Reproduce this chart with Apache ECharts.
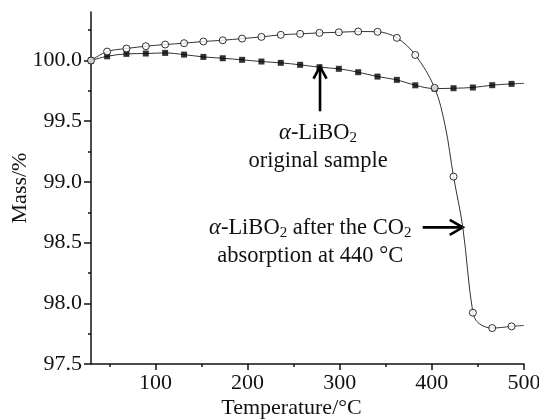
<!DOCTYPE html>
<html>
<head>
<meta charset="utf-8">
<script src="https://cdn.jsdelivr.net/npm/echarts@6/dist/echarts.min.js"></script>
<style>
  html, body { margin: 0; padding: 0; background: #fff; }
  #chart { width: 539px; height: 419px; }
</style>
</head>
<body>
<div id="chart"></div>
<script>
// temperatures of the sampled points (°C)
var temps = [30, 47.5, 68.5, 89.5, 110.5, 131, 152, 173, 194, 215, 236, 257, 278, 299, 320, 341, 362, 382, 403, 423.5, 444.5, 465.5, 486.5];
// original sample (filled squares)
var originalMass = [100.0, 100.035, 100.055, 100.058, 100.063, 100.049, 100.03, 100.019, 100.006, 99.992, 99.981, 99.965, 99.945, 99.932, 99.904, 99.868, 99.841, 99.796, 99.769, 99.772, 99.778, 99.797, 99.808];
// after CO2 absorption at 440 °C (open circles)
var afterMass = [100.0, 100.074, 100.099, 100.118, 100.132, 100.143, 100.157, 100.167, 100.181, 100.195, 100.212, 100.22, 100.228, 100.233, 100.239, 100.237, 100.187, 100.046, 99.775, 99.044, 97.923, 97.796, 97.81];
var stepT = [414.5, 433.5, 451];
var stepM = [99.46, 98.63, 97.835];
// the traces run on past the last marker to the axis end
var endTemp = 500;
var originalEnd = 99.812;
var afterEnd = 97.818;

var xMajor = [100, 200, 300, 400, 500];
var xMinor = [50, 150, 250, 350, 450];
var yMajor = [97.5, 98.0, 98.5, 99.0, 99.5, 100.0];
var yMinor = [97.75, 98.25, 98.75, 99.25, 99.75, 100.25];

var serif = 'Liberation Serif';
var ink = '#111';
var fs = 22;

function zip(xs, ys) {
  return xs.map(function (x, i) { return [x, ys[i]]; });
}

var chart = echarts.init(document.getElementById('chart'));

var axisX = {
  type: 'value', min: 30, max: 500, position: 'bottom',
  splitLine: { show: false }
};
var axisY = {
  type: 'value', min: 97.5, max: 100.4, position: 'left',
  splitLine: { show: false }
};

// circle trace = markers + read-off points + tail, sorted by temperature
var afterTrace = zip(temps, afterMass).concat(zip(stepT, stepM), [[endTemp, afterEnd]]);
afterTrace.sort(function (a, b) { return a[0] - b[0]; });

chart.setOption({
  animation: false,
  grid: { left: 91, right: 15, top: 12, bottom: 55, outerBoundsMode: 'none', containLabel: false },
  xAxis: [
    Object.assign({}, axisX, {
      name: 'Temperature/°C', nameLocation: 'middle', nameGap: 33, nameMoveOverlap: false,
      nameTextStyle: { fontFamily: serif, fontSize: fs, color: ink, padding: [0, 32, 0, 0] },
      axisLine: { show: true, lineStyle: { color: ink, width: 1.5 } },
      axisTick: { show: true, customValues: xMajor, length: 6, lineStyle: { color: ink, width: 1.5 } },
      axisLabel: { customValues: xMajor, margin: 8, fontFamily: serif, fontSize: fs, color: ink }
    }),
    Object.assign({}, axisX, {
      axisLine: { show: false },
      axisTick: { show: true, customValues: xMinor, length: 3, lineStyle: { color: ink, width: 1.5 } },
      axisLabel: { show: false }
    })
  ],
  yAxis: [
    Object.assign({}, axisY, {
      name: 'Mass/%', nameLocation: 'middle', nameGap: 60, nameMoveOverlap: false,
      nameTextStyle: { fontFamily: serif, fontSize: fs, color: ink },
      axisLine: { show: true, lineStyle: { color: ink, width: 1.5 } },
      axisTick: { show: true, customValues: yMajor, length: 7, lineStyle: { color: ink, width: 1.5 } },
      axisLabel: {
        customValues: yMajor, margin: 9, fontFamily: serif, fontSize: fs, color: ink,
        formatter: function (v) { return v.toFixed(1); }
      }
    }),
    Object.assign({}, axisY, {
      axisLine: { show: false },
      axisTick: { show: true, customValues: yMinor, length: 3, lineStyle: { color: ink, width: 1.5 } },
      axisLabel: { show: false }
    })
  ],
  series: [
    {
      type: 'line', smooth: 0.35, showSymbol: false, silent: true,
      data: zip(temps, originalMass).concat([[endTemp, originalEnd]]),
      lineStyle: { color: '#333', width: 1 }
    },
    {
      type: 'line', smooth: 0.35, showSymbol: false, silent: true,
      data: afterTrace,
      lineStyle: { color: '#333', width: 1 }
    },
    {
      type: 'scatter', symbol: 'rect', symbolSize: 6, z: 3,
      data: zip(temps, originalMass),
      itemStyle: { color: '#000' }
    },
    {
      type: 'scatter', symbol: 'circle', symbolSize: 7, z: 4,
      data: zip(temps, afterMass),
      itemStyle: { color: '#fff', borderColor: '#000', borderWidth: 1 }
    }
  ]
});

// annotations, placed in data coordinates
function px(t, m) {
  return chart.convertToPixel({ xAxisIndex: 0, yAxisIndex: 0 }, [t, m]);
}

var rich = {
  a: { fontFamily: serif, fontSize: 22.5, fontStyle: 'italic', fill: ink },
  n: { fontFamily: serif, fontSize: 22.5, fill: ink },
  s: { fontFamily: serif, fontSize: 15, fill: ink, padding: [10, 0, 0, 0] }
};

function label(t, m, text) {
  var p = px(t, m);
  return {
    type: 'text', x: p[0], y: p[1],
    style: { text: text, rich: rich, align: 'center', verticalAlign: 'middle', font: '22.5px ' + serif, fill: ink }
  };
}

var up0 = px(278.6, 99.582), up1 = px(278.6, 99.95);
var rt0 = px(390, 98.626), rt1 = px(433.5, 98.626);
var arrowStyle = { stroke: '#000', lineWidth: 2.6, fill: null };

chart.setOption({
  graphic: [
    { type: 'line', shape: { x1: up0[0], y1: up0[1], x2: up1[0], y2: up1[1] + 1 }, style: arrowStyle },
    { type: 'polyline', shape: { points: [[up1[0] - 6.5, up1[1] + 12], [up1[0], up1[1]], [up1[0] + 6.5, up1[1] + 12]] }, style: arrowStyle },
    { type: 'line', shape: { x1: rt0[0], y1: rt0[1], x2: rt1[0] - 1, y2: rt1[1] }, style: arrowStyle },
    { type: 'polyline', shape: { points: [[rt1[0] - 13, rt1[1] - 7.5], [rt1[0], rt1[1]], [rt1[0] - 13, rt1[1] + 7.5]] }, style: arrowStyle },
    label(276.5, 99.4, '{a|α}{n|-LiBO}{s|2}'),
    label(276.5, 99.175, '{n|original sample}'),
    label(268, 98.617, '{a|α}{n|-LiBO}{s|2}{n| after the CO}{s|2}'),
    label(268, 98.387, '{n|absorption at 440 °C}')
  ]
});
</script>
</body>
</html>
